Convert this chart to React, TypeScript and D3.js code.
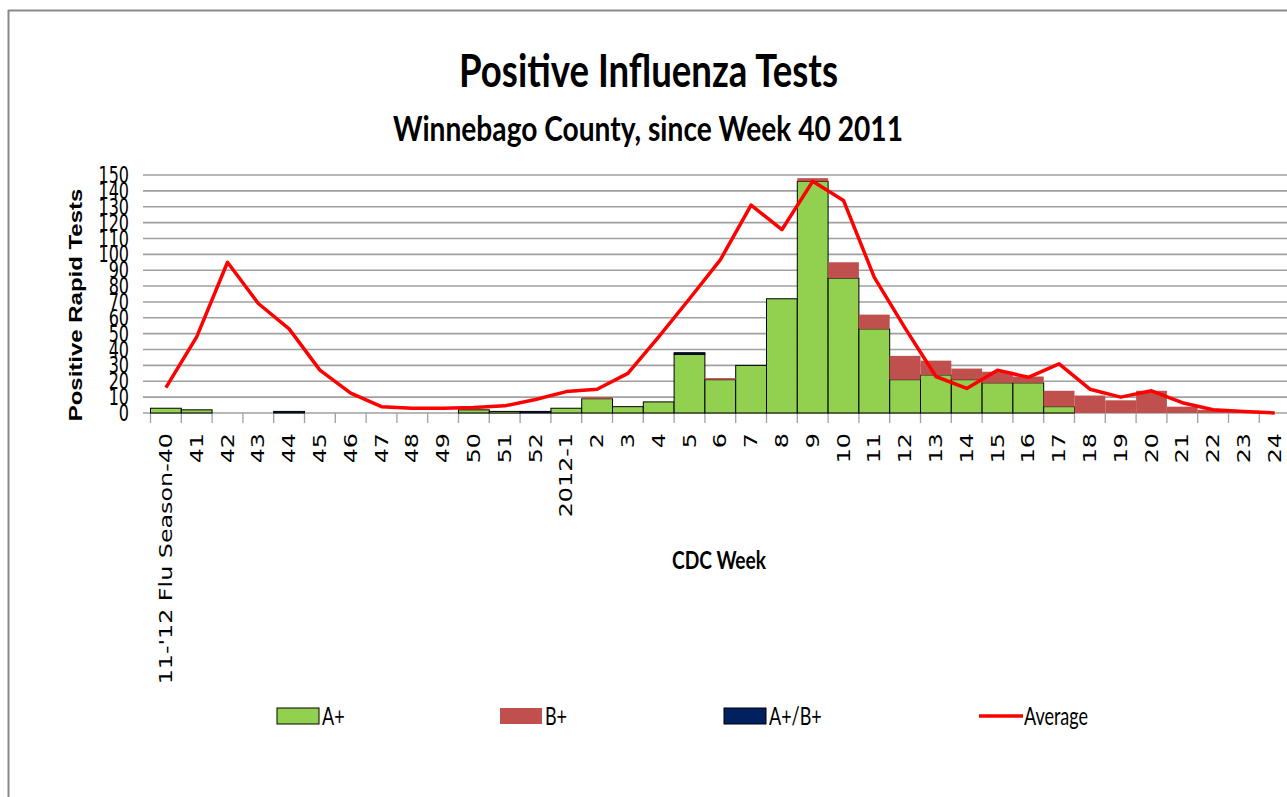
import React from 'react';
import * as d3 from 'd3';

const weeks = [
  "11-'12 Flu Season-40", '41', '42', '43', '44', '45', '46', '47', '48', '49', '50', '51', '52',
  '2012-1', '2', '3', '4', '5', '6', '7', '8', '9', '10', '11', '12', '13', '14', '15', '16',
  '17', '18', '19', '20', '21', '22', '23', '24',
];
const aPos = [3, 2, 0, 0, 0, 0, 0, 0, 0, 0, 2, 1, 0, 3, 9, 4, 7, 37, 21, 30, 72, 146, 85, 53, 21, 24, 21, 19, 19, 4, 0, 0, 0, 0, 0, 0, 0];
const bPos = [0, 0, 0, 0, 0, 0, 0, 0, 0, 0, 0, 0, 0, 0, 1, 0, 0, 0, 1, 0, 0, 2, 10, 9, 15, 9, 7, 7, 4, 10, 11, 8, 14, 4, 2, 1, 0];
const abPos = [0, 0, 0, 0, 1, 0, 0, 0, 0, 0, 0, 0, 1, 0, 0, 0, 0, 1, 0, 0, 0, 0, 0, 0, 0, 0, 0, 0, 0, 0, 0, 0, 0, 0, 0, 0, 0];
const average = [16, 48, 95, 69, 53, 27, 12.5, 4, 3, 3, 3.5, 4.5, 8.5, 13.5, 15, 25, 48, 72, 96.5, 131, 115.5, 146, 134, 85.5, 53.5, 23, 15.5, 27, 22.5, 31, 15, 10, 14, 6.5, 2, 1, 0];
const yTicks = [0, 10, 20, 30, 40, 50, 60, 70, 80, 90, 100, 110, 120, 130, 140, 150];

const seriesKeys = ['A+', 'B+', 'A+/B+'];
const seriesColors: Record<string, string> = { 'A+': '#92D050', 'B+': '#C0504D', 'A+/B+': '#002060' };
const seriesStroke: Record<string, string> = { 'A+': '#000', 'B+': 'none', 'A+/B+': '#000' };

const W = 1287;
const H = 797;
const calibri = 'Lato, "Open Sans", sans-serif';
const verdana = '"DejaVu Sans", Verdana, sans-serif';

export default function App() {
  const x = d3.scaleBand<string>().domain(weeks).range([150.5, 150.5 + 30.8 * weeks.length]).padding(0);
  const y = d3.scaleLinear().domain([0, 150]).range([413, 175]);

  const rows = weeks.map((w, i) => ({ week: w, 'A+': aPos[i], 'B+': bPos[i], 'A+/B+': abPos[i] }));
  const stacked = d3.stack<any>().keys(seriesKeys)(rows);

  const line = d3
    .line<number>()
    .x((_, i) => (x(weeks[i]) as number) + x.bandwidth() / 2)
    .y((d) => y(d));

  const boundaries = weeks.map((w) => x(w) as number).concat([x.range()[1]]);

  const legend = [
    { label: 'A+', kind: 'A+', x: 277 },
    { label: 'B+', kind: 'B+', x: 500 },
    { label: 'A+/B+', kind: 'A+/B+', x: 724 },
    { label: 'Average', kind: 'line', x: 979 },
  ];

  return (
    <div style={{ position: 'absolute', left: 0, top: 0 }}>
      <svg width={W} height={H} style={{ display: 'block', background: '#fff' }}>
        {/* frame */}
        <line x1={8} x2={W} y1={10.5} y2={10.5} stroke="#8a8a8a" strokeWidth={2} />
        <line x1={8.5} x2={8.5} y1={10} y2={H} stroke="#8a8a8a" strokeWidth={2} />

        {/* titles */}
        <text
          transform="translate(648.5,87) scale(1,1.45)"
          textAnchor="middle"
          fontFamily={calibri}
          fontWeight="bold"
          fontSize={31}
          textLength={379}
          lengthAdjust="spacingAndGlyphs"
        >
          Positive Influenza Tests
        </text>
        <text
          transform="translate(648,141) scale(1,1.4)"
          textAnchor="middle"
          fontFamily={calibri}
          fontWeight="bold"
          fontSize={24}
          textLength={510}
          lengthAdjust="spacingAndGlyphs"
        >
          Winnebago County, since Week 40 2011
        </text>

        {/* grid */}
        {yTicks.map((t) => (
          <line key={t} x1={143} x2={W} y1={y(t)} y2={y(t)} stroke="#a0a0a0" strokeWidth={1.6} />
        ))}
        {boundaries.map((bx, i) => (
          <line key={i} x1={bx} x2={bx} y1={413} y2={423} stroke="#a0a0a0" strokeWidth={1.3} />
        ))}

        {/* y tick labels */}
        {yTicks.map((t) => (
          <text
            key={t}
            transform={`translate(129,${y(t)}) scale(1,1.4)`}
            textAnchor="end"
            dy="0.36em"
            fontFamily={verdana}
            fontSize={16}
            fill="#000"
          >
            {t}
          </text>
        ))}

        {/* y axis title */}
        <text
          transform="translate(76,305) rotate(-90) scale(1.37,1)"
          textAnchor="middle"
          dy="0.36em"
          fontFamily='"Liberation Sans", Arial, sans-serif'
          fontWeight="bold"
          fontSize={17.5}
        >
          Positive Rapid Tests
        </text>

        {/* bars */}
        {stacked.map((s) => (
          <g key={s.key} fill={seriesColors[s.key]} stroke={seriesStroke[s.key]} strokeWidth={1}>
            {s.map((d, i) =>
              d[1] - d[0] > 0 ? (
                <rect
                  key={i}
                  x={x(weeks[i])}
                  y={y(d[1])}
                  width={x.bandwidth()}
                  height={y(d[0]) - y(d[1])}
                />
              ) : null
            )}
          </g>
        ))}

        {/* average */}
        <path d={line(average) || ''} fill="none" stroke="#FF0000" strokeWidth={3.5} strokeLinejoin="round" />

        {/* x labels */}
        {weeks.map((w) => (
          <text
            key={w}
            transform={`translate(${(x(w) as number) + x.bandwidth() / 2},433) rotate(-90) scale(1.4,1)`}
            textAnchor="end"
            dy="0.36em"
            fontFamily={verdana}
            fontSize={17}
          >
            {w}
          </text>
        ))}

        <text
          transform="translate(719,569) scale(1,1.4)"
          textAnchor="middle"
          fontFamily={calibri}
          fontWeight="bold"
          fontSize={18}
          textLength={94}
          lengthAdjust="spacingAndGlyphs"
        >
          CDC Week
        </text>

        {/* legend */}
        {legend.map((l) => (
          <g key={l.label}>
            {l.kind === 'line' ? (
              <line x1={l.x} x2={l.x + 44} y1={716} y2={716} stroke="#FF0000" strokeWidth={3.5} />
            ) : (
              <rect
                x={l.x}
                y={708}
                width={42}
                height={16}
                fill={seriesColors[l.kind]}
                stroke={seriesStroke[l.kind]}
                strokeWidth={1}
              />
            )}
            <text transform={`translate(${l.x + 45},725) scale(1,1.4)`} fontFamily={calibri} fontSize={18}>
              {l.label}
            </text>
          </g>
        ))}
      </svg>
    </div>
  );
}
